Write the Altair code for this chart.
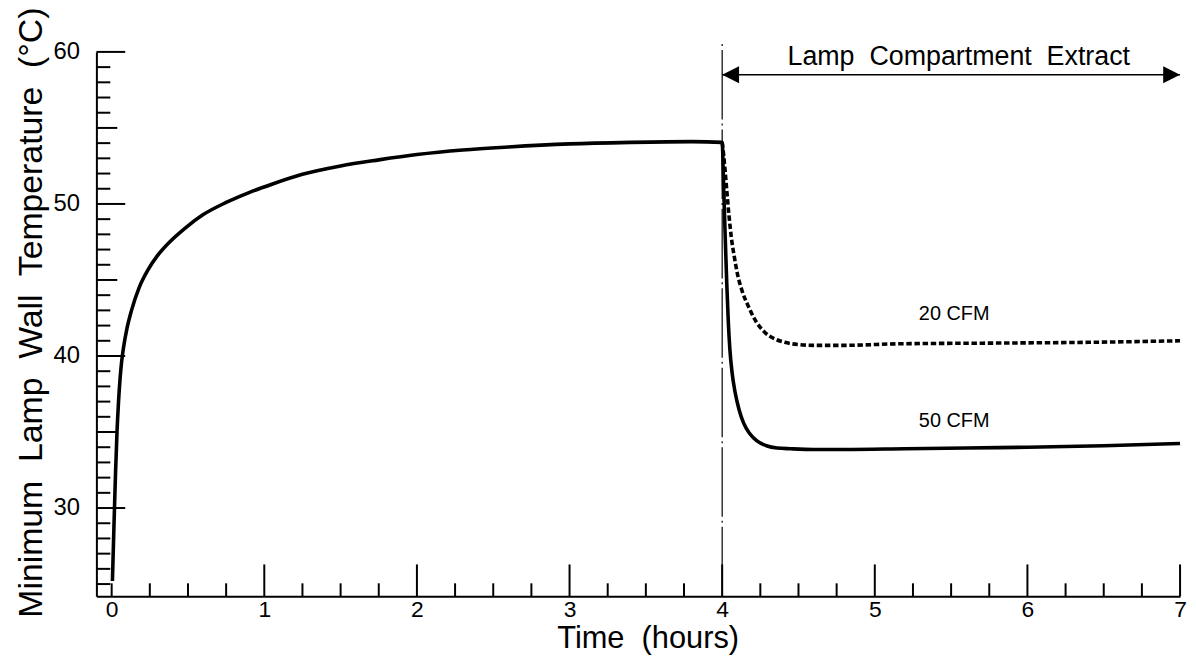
import altair as alt
import pandas as pd

# ---- data ----
# warm-up (solid line), hours / deg C
hours_warm = [0.005, 0.015, 0.025, 0.035, 0.045, 0.055, 0.065, 0.08, 0.1, 0.13, 0.18, 0.24,
              0.3, 0.38, 0.48, 0.6, 0.75, 0.9, 1.05, 1.25, 1.5, 1.75, 2.0, 2.3, 2.6, 3.0, 3.4, 3.8]
temp_warm = [25.2, 28.8, 32.2, 35.0, 37.0, 38.5, 39.6, 40.7, 41.8, 43.0, 44.5, 45.7,
             46.6, 47.5, 48.4, 49.3, 50.1, 50.75, 51.3, 51.95, 52.5, 52.9, 53.25, 53.55, 53.75,
             53.95, 54.05, 54.1]

# 50 CFM extract (solid)
hours_50 = [4.0, 4.01, 4.02, 4.03, 4.04, 4.05, 4.065, 4.085, 4.11, 4.14, 4.18, 4.23,
            4.29, 4.36, 4.45, 4.6, 4.8, 5.2, 5.6, 6.0, 6.5, 7.0]
temp_50 = [54.05, 51.0, 47.8, 44.8, 42.3, 40.5, 38.9, 37.6, 36.5, 35.6, 34.9, 34.4,
           34.1, 33.95, 33.9, 33.85, 33.85, 33.9, 33.95, 34.0, 34.1, 34.25]

# 20 CFM extract (dashed)
hours_20 = [4.0, 4.01, 4.02, 4.03, 4.045, 4.06, 4.08, 4.1, 4.13, 4.17, 4.22, 4.28,
            4.35, 4.41, 4.5, 4.6, 4.8, 5.15, 5.8, 6.4, 7.0]
temp_20 = [54.05, 53.2, 52.1, 50.9, 49.2, 47.8, 46.5, 45.4, 44.3, 43.3, 42.3, 41.55,
           41.1, 40.9, 40.75, 40.7, 40.7, 40.8, 40.85, 40.9, 41.0]

x_label_values = [0, 1, 2, 3, 4, 5, 6, 7]
y_label_values = [30, 40, 50, 60]
x_minor_ticks = [0, 0.25, 0.5, 0.75, 1.25, 1.5, 1.75, 2.25, 2.5, 2.75, 3.25, 3.5, 3.75,
                 4.25, 4.5, 4.75, 5.25, 5.5, 5.75, 6.25, 6.5, 6.75]
x_major_ticks = [1, 2, 3, 4, 5, 6, 7]
y_minor_ticks = [25, 26, 27, 28, 29, 31, 32, 33, 34, 36, 37, 38, 39, 41, 42, 43, 44,
                 46, 47, 48, 49, 51, 52, 53, 54, 56, 57, 58, 59]
y_mid_ticks = [35, 45, 55]
y_major_ticks = [30, 40, 50, 60]

extract_start = 4.0
extract_end = 7.0
arrow_level = 58.5

labels_text = ["Lamp\u00a0 Compartment\u00a0 Extract", "20 CFM", "50 CFM"]
labels_t = [5.55, 5.52, 5.52]
labels_v = [59.15, 42.35, 35.36]
labels_size = [27, 20, 20]

# ---- layout ----
W, H = 1091, 548
FONT = "Liberation Sans"
xs = alt.Scale(domain=[-0.1, 7.0], nice=False, zero=False)
ys = alt.Scale(domain=[24.2, 60.0], nice=False, zero=False)

x_axis = alt.Axis(values=x_label_values, format="d", title="Time\u00a0 (hours)",
                  labelFontSize=23, titleFontSize=31, labelPadding=2, titlePadding=3,
                  titleX=555, titleAlign="center",
                  ticks=False, tickSize=0, domainWidth=2, domainColor="black", grid=False,
                  labelColor="black", titleColor="black", labelFont=FONT, titleFont=FONT,
                  titleFontWeight="normal", labelFlush=False)
y_axis = alt.Axis(values=y_label_values, format="d",
                  title="Minimum\u00a0 Lamp\u00a0 Wall\u00a0 Temperature\u00a0 (°C)",
                  labelFontSize=24, titleFontSize=34, labelPadding=17, titlePadding=5,
                  titleY=262, titleAlign="center",
                  ticks=False, tickSize=0, domainWidth=2, domainColor="black", grid=False,
                  labelColor="black", titleColor="black", labelFont=FONT, titleFont=FONT,
                  titleFontWeight="normal", labelFlush=False)

X = alt.X("t:Q", scale=xs, axis=x_axis)
Y = alt.Y("v:Q", scale=ys, axis=y_axis)

solid_df = pd.DataFrame({"t": hours_warm + hours_50, "v": temp_warm + temp_50})
dashed_df = pd.DataFrame({"t": hours_20, "v": temp_20})

solid = alt.Chart(solid_df).mark_line(color="black", strokeWidth=3.6, interpolate="monotone").encode(x=X, y=Y)
dashed = alt.Chart(dashed_df).mark_line(color="black", strokeWidth=3.6, strokeDash=[5.5, 2.7],
                                        interpolate="monotone").encode(x=X, y=Y)

vline = alt.Chart(pd.DataFrame({"t": [extract_start], "v": [24.2], "v2": [60.7]})).mark_rule(
    color="black", strokeWidth=1.2, strokeDash=[70, 4, 2, 4]).encode(x=X, y=Y, y2="v2:Q")


def yticks(vals, length):
    return alt.Chart(pd.DataFrame({"v": vals})).mark_rule(color="black", strokeWidth=2).encode(
        y=Y, x=alt.value(0), x2=alt.value(length))


def xticks(vals, length):
    return alt.Chart(pd.DataFrame({"t": vals})).mark_rule(color="black", strokeWidth=2).encode(
        x=X, y=alt.value(H), y2=alt.value(H - length))


arrow_df = pd.DataFrame({"t": [extract_start], "t2": [extract_end], "v": [arrow_level]})
arrow = alt.Chart(arrow_df).mark_rule(color="black", strokeWidth=1.6).encode(x=X, x2="t2:Q", y=Y)
head_l = alt.Chart(pd.DataFrame({"t": [extract_start], "v": [arrow_level]})).mark_point(
    shape="M0,0L2,-1L2,1Z", filled=True, size=289, color="black", opacity=1).encode(x=X, y=Y)
head_r = alt.Chart(pd.DataFrame({"t": [extract_end], "v": [arrow_level]})).mark_point(
    shape="M0,0L-2,-1L-2,1Z", filled=True, size=289, color="black", opacity=1).encode(x=X, y=Y)

lab_df = pd.DataFrame({"t": labels_t, "v": labels_v, "label": labels_text, "size": labels_size})
texts = alt.Chart(lab_df).mark_text(font=FONT, baseline="alphabetic", align="center",
                                    color="black").encode(
    x=X, y=Y, text="label:N", size=alt.Size("size:Q", scale=None, legend=None))

chart = alt.layer(
    vline,
    yticks(y_minor_ticks, 14), yticks(y_mid_ticks, 21), yticks(y_major_ticks, 29),
    xticks(x_minor_ticks, 13), xticks(x_major_ticks, 32),
    solid, dashed, arrow, head_l, head_r, texts,
).properties(
    width=W, height=H,
    autosize=alt.AutoSizeParams(type="none"),
    padding={"left": 89, "top": 42, "right": 8, "bottom": 62},
    background="white",
).configure_view(stroke=None)

chart.save("out.html", embed_options={"renderer": "svg", "actions": False})
